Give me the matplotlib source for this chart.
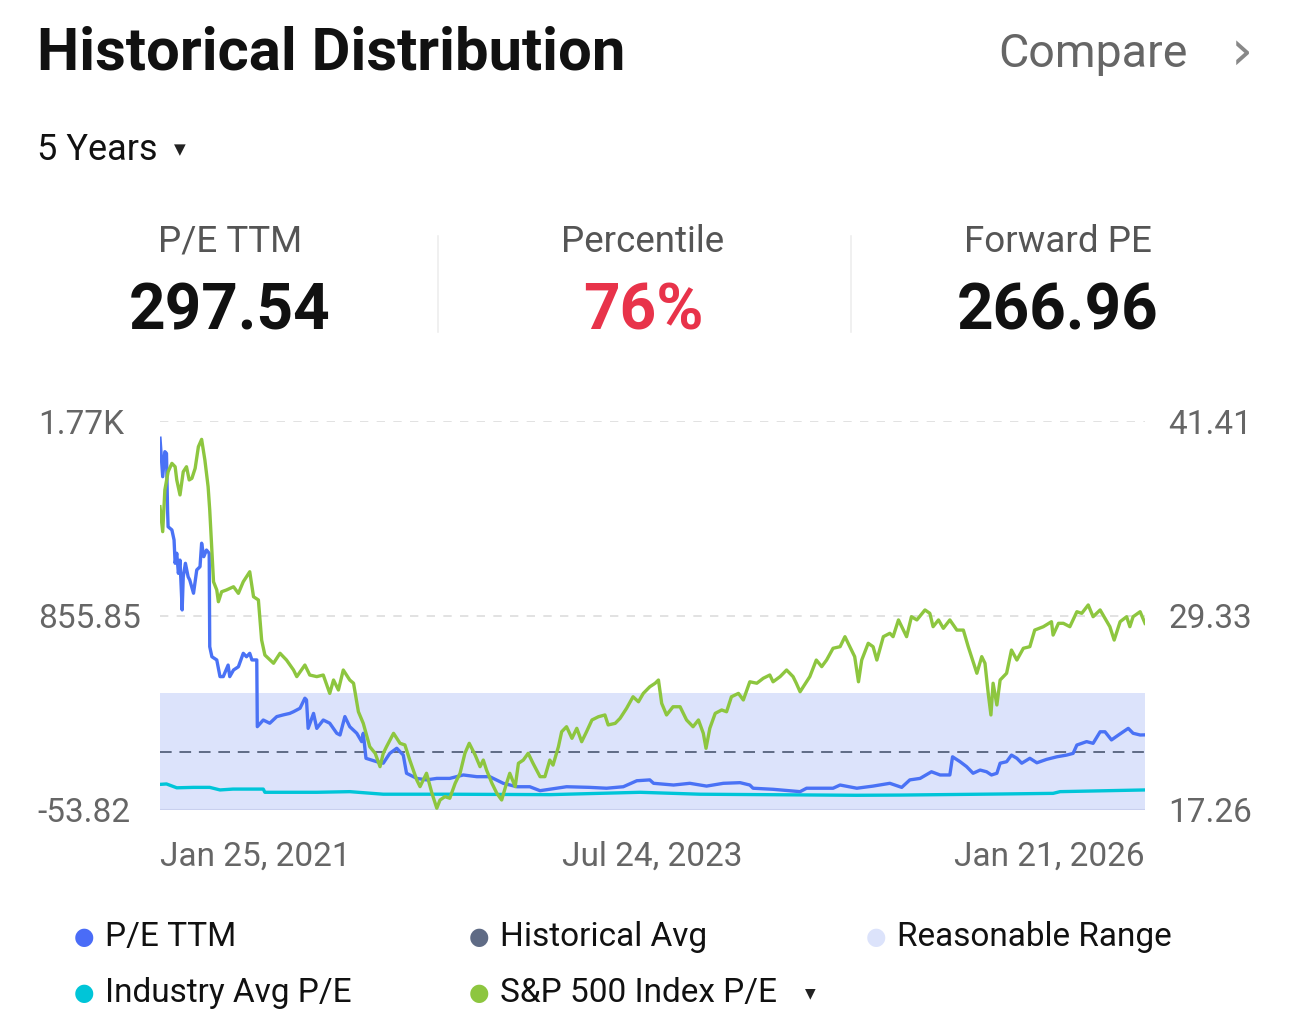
import matplotlib
matplotlib.use("Agg")
import matplotlib.pyplot as plt
import pandas as pd
import numpy as np

plt.rcParams['font.family'] = ['Roboto', 'DejaVu Sans']

# ---------------- data ----------------
start_date = "2021-01-25"
header_labels = ["P/E TTM", "Percentile", "Forward PE"]
header_values = ["297.54", "76%", "266.96"]

pe_days = [0, 5, 9, 12, 14, 15, 22, 26, 28, 31, 34, 37, 41, 43, 47, 52, 55, 62, 68, 74, 77, 81, 86, 91,
           92, 96, 105, 111, 117, 126, 129, 136, 145, 154, 160, 166, 170, 179, 180, 191, 203, 216, 228,
           240, 247, 259, 268, 271, 274, 284, 290, 302, 314, 327, 333, 342, 351, 364, 373, 376, 381, 401,
           413, 425, 438, 450, 456, 475, 493, 512, 536, 561, 586, 610, 635, 660, 684, 703, 752, 795, 826,
           857, 882, 906, 913, 950, 980, 1011, 1042, 1073, 1091, 1097, 1134, 1184, 1196, 1245, 1258, 1289,
           1319, 1350, 1372, 1387, 1406, 1427, 1443, 1461, 1466, 1480, 1492, 1504, 1517, 1529, 1538, 1548,
           1554, 1566, 1575, 1585, 1594, 1609, 1622, 1640, 1659, 1677, 1689, 1696, 1714, 1726, 1739, 1748,
           1760, 1773, 1791, 1800, 1813, 1822]
pe_ttm = [1685, 1505, 1622, 1614, 1349, 1271, 1256, 1209, 1100, 1147, 1053, 1115, 882, 1037, 1100, 1037,
          1022, 960, 1069, 1084, 1194, 1131, 1162, 1147, 710, 663, 648, 570, 570, 624, 570, 601, 616, 679,
          663, 679, 648, 648, 336, 367, 352, 383, 391, 398, 406, 422, 469, 461, 328, 398, 328, 367, 352,
          305, 297, 383, 336, 305, 266, 305, 188, 172, 165, 211, 235, 203, 118, 94, 87, 94, 94, 110, 102,
          102, 71, 55, 55, 36.5, 55, 52, 48, 55, 83, 87, 71, 63, 71, 58, 71, 74, 63, 48, 43, 32, 48, 48,
          63, 48, 58, 71, 52, 87, 94, 125, 110, 110, 195, 172, 149, 118, 133, 125, 110, 118, 165, 172, 203,
          188, 165, 188, 167, 183, 195, 203, 211, 250, 266, 258, 312, 312, 274, 297, 328, 305, 297, 297.54]

sp_days = [0, 5, 9, 15, 22, 28, 31, 37, 43, 49, 54, 59, 65, 71, 77, 83, 89, 92, 99, 105, 108, 114, 123,
           136, 145, 154, 166, 173, 182, 188, 194, 210, 222, 234, 247, 253, 268, 277, 290, 302, 314, 321,
           330, 339, 351, 358, 367, 376, 388, 398, 407, 413, 419, 432, 444, 453, 462, 475, 481, 493, 503,
           512, 518, 527, 536, 546, 555, 564, 572, 583, 592, 598, 604, 614, 623, 632, 641, 647, 657, 663,
           672, 681, 690, 703, 712, 721, 727, 737, 743, 752, 762, 771, 780, 789, 799, 811, 823, 829, 842,
           851, 863, 875, 885, 894, 906, 916, 922, 928, 937, 949, 962, 974, 986, 996, 1005, 1010, 1017,
           1027, 1039, 1048, 1057, 1070, 1079, 1091, 1104, 1116, 1128, 1134, 1147, 1159, 1171, 1177, 1184,
           1196, 1202, 1214, 1224, 1233, 1245, 1258, 1267, 1276, 1285, 1292, 1298, 1310, 1319, 1326, 1338,
           1350, 1356, 1366, 1381, 1390, 1400, 1415, 1424, 1430, 1440, 1449, 1461, 1474, 1486, 1495, 1501,
           1511, 1520, 1526, 1532, 1537, 1541, 1548, 1554, 1566, 1575, 1585, 1597, 1609, 1618, 1634, 1649,
           1652, 1662, 1671, 1683, 1696, 1705, 1717, 1726, 1739, 1748, 1757, 1765, 1776, 1788, 1794, 1800,
           1813, 1822]
sp500_pe = [36.09, 34.54, 37.13, 38.26, 38.78, 38.57, 37.75, 36.82, 38.26, 38.57, 37.75, 37.85, 38.47,
            39.81, 40.27, 38.99, 37.33, 35.88, 31.43, 30.92, 30.19, 30.81, 30.92, 31.12, 30.71, 31.43,
            32.05, 30.50, 30.30, 27.81, 26.88, 26.37, 26.99, 26.57, 25.95, 25.54, 26.26, 25.64, 25.54,
            25.64, 24.50, 25.33, 24.71, 25.95, 25.33, 25.13, 23.36, 22.64, 21.19, 20.78, 19.95, 20.78,
            21.19, 22.02, 21.40, 21.30, 20.36, 19.12, 18.71, 19.54, 18.30, 17.37, 17.88, 18.09, 17.99,
            18.92, 19.54, 20.78, 21.40, 20.67, 19.95, 20.36, 19.74, 18.92, 18.30, 17.88, 18.92, 19.54,
            18.71, 20.16, 20.36, 20.78, 20.16, 19.33, 19.33, 20.36, 20.05, 21.19, 22.12, 22.43, 21.71,
            22.33, 21.50, 22.12, 22.85, 23.05, 23.16, 22.54, 22.64, 22.95, 23.57, 24.29, 23.98, 24.50,
            24.91, 25.13, 25.33, 23.88, 23.16, 23.67, 23.67, 22.85, 22.43, 22.85, 22.02, 21.09, 22.33,
            23.26, 23.47, 23.36, 24.29, 24.50, 24.09, 25.22, 25.13, 25.44, 25.64, 25.22, 25.54, 25.95,
            25.54, 25.13, 24.60, 25.22, 25.54, 26.57, 26.16, 26.57, 27.30, 27.40, 28.02, 27.40, 26.78,
            25.22, 26.57, 27.61, 27.40, 26.57, 28.02, 28.23, 28.02, 29.06, 28.02, 29.26, 29.06, 29.68,
            29.47, 28.64, 29.06, 28.54, 29.06, 28.43, 28.43, 27.40, 26.78, 25.75, 26.78, 26.37, 24.50,
            23.16, 25.13, 23.78, 25.33, 25.75, 27.19, 26.57, 27.30, 27.40, 28.43, 28.64, 28.95, 28.12,
            28.85, 28.85, 28.64, 29.57, 29.47, 29.99, 29.26, 29.68, 29.16, 28.64, 27.81, 28.95, 29.26,
            28.64, 29.26, 29.57, 28.85]

ind_days = [0, 12, 31, 62, 92, 111, 135, 191, 194, 290, 351, 413, 536, 721, 888, 999, 1288, 1369, 1554,
            1652, 1665, 1822]
industry_pe = [66, 68, 50, 52, 52, 40, 44, 44, 29, 29, 32, 20, 20, 18, 29, 20, 15, 16, 21, 24, 32, 40]

hist_avg = 219.0
range_low, range_high = -53.82, 492.0

left_ticks = [-53.82, 855.85, 1765.52]
left_tick_labels = ["-53.82", "855.85", "1.77K"]
right_ticks = [17.26, 29.335, 41.41]
right_tick_labels = ["17.26", "29.33", "41.41"]
x_tick_dates = ["2021-01-25", "2023-07-24", "2026-01-21"]
x_tick_labels = ["Jan 25, 2021", "Jul 24, 2023", "Jan 21, 2026"]

legend_items = [("P/E TTM", "#4A6CF7"), ("Historical Avg", "#5F6B85"), ("Reasonable Range", "#DCE3FB"),
                ("Industry Avg P/E", "#00C5D8"), ("S&P 500 Index P/E", "#8DC63F")]

# ---------------- figure ----------------
W, H = 1289, 1035
fig = plt.figure(figsize=(W / 100, H / 100), dpi=100)

def fx(px):
    return px / W

def fy(py):
    return 1 - py / H

t0 = pd.Timestamp(start_date)
pe_dates = t0 + pd.to_timedelta(pe_days, unit="D")
sp_dates = t0 + pd.to_timedelta(sp_days, unit="D")
ind_dates = t0 + pd.to_timedelta(ind_days, unit="D")

ax = fig.add_axes([fx(160), fy(810), fx(1145) - fx(160), fy(421) - fy(810)])
ax2 = ax.twinx()

ax.set_ylim(left_ticks[0], left_ticks[-1])
ax2.set_ylim(right_ticks[0], right_ticks[-1])
ax.set_xlim(pd.Timestamp(x_tick_dates[0]), pd.Timestamp(x_tick_dates[-1]))

ax.axhspan(range_low, range_high, color="#DCE3FB", zorder=0, lw=0)
ax.axhline(range_low, color="#C9D0EE", lw=1.5, zorder=1)
for v in left_ticks[1:]:
    ax.axhline(v, color="#DDDDDD", lw=1.2, ls=(0, (5, 5)), zorder=1)
ax.axhline(hist_avg, color="#5F6B85", lw=1.4, ls=(0, (6, 4)), zorder=2)

ax.plot(ind_dates, industry_pe, color="#00C5D8", lw=2.4, zorder=3)
ax.plot(pe_dates, pe_ttm, color="#4A72F5", lw=2.4, zorder=4)
ax2.plot(sp_dates, sp500_pe, color="#8DC63F", lw=2.4, zorder=5)

for a in (ax, ax2):
    for s in a.spines.values():
        s.set_visible(False)
    a.tick_params(length=0, colors="#666666", labelsize=24)

ax.set_yticks(left_ticks)
ax.set_yticklabels(left_tick_labels, ha="left")
ax.tick_params(axis="y", pad=88)
ax2.set_yticks(right_ticks)
ax2.set_yticklabels(right_tick_labels, ha="right")
ax2.tick_params(axis="y", pad=77)

ax.set_xticks(pd.to_datetime(x_tick_dates))
ax.set_xticklabels(x_tick_labels)
ax.tick_params(axis="x", pad=22)
for lbl, ha in zip(ax.get_xticklabels(), ["left", "center", "right"]):
    lbl.set_ha(ha)
for lbl in ax.get_yticklabels() + ax2.get_yticklabels() + ax.get_xticklabels():
    lbl.set_color("#666666")

# ---------------- header ----------------
fig.text(fx(37), fy(54), "Historical Distribution", fontsize=43, fontweight="bold",
         color="#111111", va="center", ha="left")
fig.text(fx(1188), fy(54), "Compare", fontsize=33.5, color="#666666", va="center", ha="right")
fig.text(fx(1253), fy(54), "\u203A", fontsize=40, color="#888888", va="center", ha="right",
         family=["DejaVu Sans"])
fig.text(fx(37), fy(150), "5 Years", fontsize=26, color="#111111", va="center", ha="left")
fig.text(fx(180), fy(150), "\u25BC", fontsize=11, color="#222222", va="center", ha="center",
         family=["DejaVu Sans"])

centers = [230, 643, 1058]
value_colors = ["#111111", "#E8334A", "#111111"]
for c, lab, val, col in zip(centers, header_labels, header_values, value_colors):
    fig.text(fx(c), fy(242), lab, fontsize=26.5, color="#555555", va="center", ha="center")
    fig.text(fx(c), fy(312), val, fontsize=46, fontweight="bold", color=col, va="center", ha="center")
for sx in [438, 851]:
    fig.add_artist(plt.Line2D([fx(sx), fx(sx)], [fy(236), fy(332)], color="#EEEEEE", lw=1.2))

# ---------------- legend ----------------
pos = [(84, 937), (479, 937), (876, 937), (84, 993), (479, 993)]
for (lx, ly), (lab, col) in zip(pos, legend_items):
    fig.text(fx(lx), fy(ly), "\u25CF", fontsize=17, color=col, va="center", ha="center",
             family=["DejaVu Sans"])
    fig.text(fx(lx + 21), fy(ly), lab, fontsize=24, color="#111111", va="center", ha="left")
fig.text(fx(810), fy(993), "\u25BC", fontsize=10, color="#222222", va="center", ha="center",
         family=["DejaVu Sans"])

fig.savefig("out.png", dpi=100, facecolor="white")
